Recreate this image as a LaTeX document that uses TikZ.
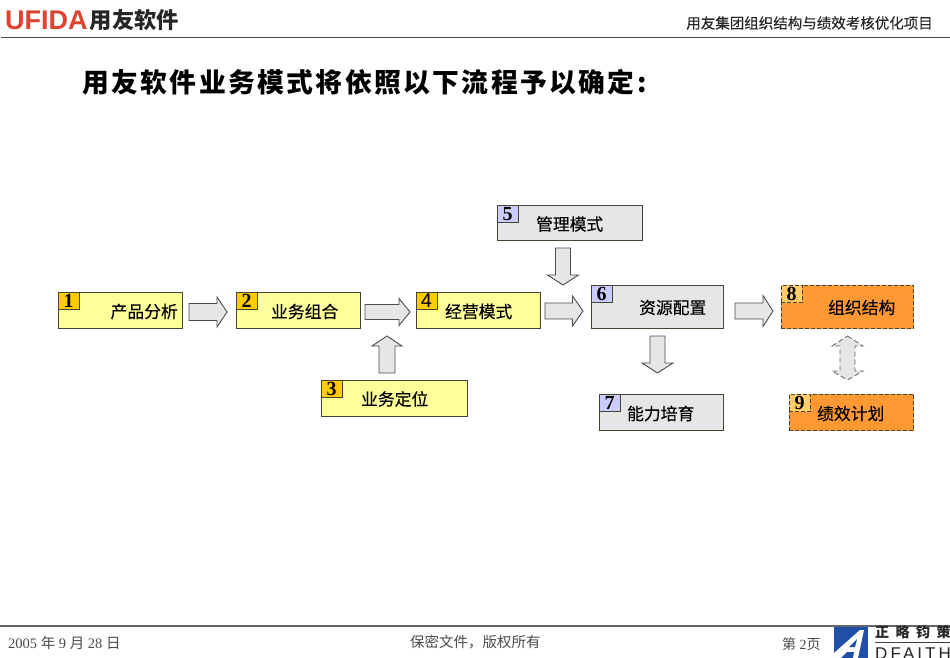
\documentclass[tikz,border=0pt]{standalone}
\usepackage{fontspec}
\setmainfont{Liberation Serif}
\setsansfont{Liberation Sans}
\newfontfamily\cjk{Noto Sans CJK SC}
\newfontfamily\cjklabel[FakeBold=0.25]{Noto Sans CJK SC}
\newfontfamily\cjktitle[LetterSpace=9]{Noto Sans CJK SC}
\newfontfamily\cjkwide[LetterSpace=46]{Noto Sans CJK SC}
\newfontfamily\enwide[LetterSpace=18]{Liberation Sans}
\usetikzlibrary{calc}
\definecolor{ybox}{HTML}{FFFF99}
\definecolor{ybadge}{HTML}{FFCC00}
\definecolor{gbox}{HTML}{E6E6E6}
\definecolor{gbadge}{HTML}{CCCCFF}
\definecolor{obox}{HTML}{FF9933}
\definecolor{obadge}{HTML}{FFCC66}
\definecolor{edge}{HTML}{444433}
\definecolor{logored}{HTML}{DC4430}
\definecolor{logoblue}{HTML}{1F4FA8}
\newcommand\dg[1]{\raisebox{-1.5pt}{#1}}
\tikzset{
  boxbase/.style={draw=edge,line width=1pt,inner sep=0pt,outer sep=0pt},
  yellowbox/.style={boxbase,fill=ybox},
  greybox/.style={boxbase,fill=gbox},
  orangebox/.style={boxbase,fill=obox,dash pattern=on 4pt off 2pt},
  badgebase/.style={draw=edge,line width=0.7pt,inner sep=0pt,outer sep=0pt,anchor=north west,
     minimum width=21pt,minimum height=17.5pt,font=\fontsize{20}{20}\selectfont\bfseries},
  ybadgebox/.style={badgebase,fill=ybadge},
  gbadgebox/.style={badgebase,fill=gbadge},
  obadgebox/.style={badgebase,fill=obadge,dash pattern=on 4pt off 2pt},
  lab/.style={inner sep=0pt,font=\fontsize{16.8}{17}\cjklabel},
  barrow/.style={draw=black!70,fill=gbox,line width=0.9pt,line join=miter},
  darrow/.style={draw=black!60,fill=gbox,line width=0.8pt,dash pattern=on 5pt off 3pt},
  foot/.style={inner sep=0pt,text=black!70},
}
% #1 start, #2 end, #3 half shaft, #4 half head, #5 head length
\newcommand\blockarrow[5]{%
  \coordinate (hb) at ($(#2)!#5!(#1)$);
  \draw[barrow]
    ($(#1)!#3!90:(#2)$) -- ($(hb)!#3!-90:(#1)$) -- ($(hb)!#4!-90:(#1)$) -- (#2)
    -- ($(hb)!#4!90:(#1)$) -- ($(hb)!#3!90:(#1)$) -- ($(#1)!#3!-90:(#2)$) -- cycle;
}
\begin{document}
\begin{tikzpicture}[x=1pt,y=-1pt]
\useasboundingbox (0,0) rectangle (950,658);
\fill[white] (0,0) rectangle (950,658);
% header
\node[anchor=west,inner sep=0pt,text=logored,font=\fontsize{27}{27}\sffamily\bfseries] (ufida) at (5,20.5) {UFIDA};
\node[anchor=west,inner sep=0pt,text=black!85,font=\fontsize{22.3}{23}\cjk\bfseries] (yy) at (89.5,20.5) {用友软件};
\node[anchor=east,inner sep=0pt,font=\fontsize{14.5}{15}\cjklabel,text=black!85] (proj) at (933,23) {用友集团组织结构与绩效考核优化项目};
\draw[black!70,line width=1pt] (1,38) -- (950,38);
\node[anchor=west,inner sep=0pt,font=\fontsize{26.8}{27}\cjktitle\bfseries] (title) at (82,82) {用友软件业务模式将依照以下流程予以确定:};
% boxes
\node[yellowbox,minimum width=124.5pt,minimum height=36.5pt] (n1) at (120.25,310.25) {};
\node[yellowbox,minimum width=124.5pt,minimum height=36.5pt] (n2) at (298.25,310.25) {};
\node[yellowbox,minimum width=146.5pt,minimum height=36.5pt] (n3) at (394.25,398.25) {};
\node[yellowbox,minimum width=124.5pt,minimum height=36.5pt] (n4) at (478.25,310.25) {};
\node[greybox,minimum width=145.5pt,minimum height=35.5pt] (n5) at (569.75,222.75) {};
\node[greybox,minimum width=132.5pt,minimum height=43.5pt] (n6) at (657.25,306.75) {};
\node[greybox,minimum width=124.5pt,minimum height=36.5pt] (n7) at (661.25,412.25) {};
\node[orangebox,minimum width=132.5pt,minimum height=43.5pt] (n8) at (847.25,306.75) {};
\node[orangebox,minimum width=124.5pt,minimum height=36.5pt] (n9) at (851.25,412.25) {};
% badges
\node[ybadgebox] (b1) at (n1.north west) {\dg{1}};
\node[ybadgebox] (b2) at (n2.north west) {\dg{2}};
\node[ybadgebox] (b3) at (n3.north west) {\dg{3}};
\node[ybadgebox,font=\fontsize{20}{20}\sffamily] (b4) at (n4.north west) {\dg{4}};
\node[gbadgebox] (b5) at (n5.north west) {\dg{5}};
\node[gbadgebox] (b6) at (n6.north west) {\dg{6}};
\node[gbadgebox] (b7) at (n7.north west) {\dg{7}};
\node[obadgebox] (b8) at (n8.north west) {\dg{8}};
\node[obadgebox] (b9) at (n9.north west) {\dg{9}};
% labels
\node[lab,anchor=east] (l1) at (178,311.5) {产品分析};
\node[lab,anchor=east] (l2) at (338.5,311.5) {业务组合};
\node[lab,anchor=east] (l3) at (428.5,399) {业务定位};
\node[lab,anchor=east] (l4) at (512.5,311.5) {经营模式};
\node[lab,anchor=east] (l5) at (603.5,224) {管理模式};
\node[lab,anchor=east] (l6) at (706.5,307.5) {资源配置};
\node[lab,anchor=east] (l7) at (694.5,413.5) {能力培育};
\node[lab,anchor=east] (l8) at (895.5,307.5) {组织结构};
\node[lab,anchor=east] (l9) at (884.5,413.5) {绩效计划};
% block arrows
\coordinate (a1s) at (189,312); \coordinate (a1e) at (227,312);
\blockarrow{a1s}{a1e}{8.5pt}{15pt}{10pt}
\coordinate (a2s) at (365,312); \coordinate (a2e) at (410,312);
\blockarrow{a2s}{a2e}{7.5pt}{13.5pt}{11pt}
\coordinate (a3s) at (387,373); \coordinate (a3e) at (387,336);
\blockarrow{a3s}{a3e}{8pt}{15pt}{10pt}
\coordinate (a4s) at (545,311); \coordinate (a4e) at (583,311);
\blockarrow{a4s}{a4e}{8pt}{15pt}{10.5pt}
\coordinate (a5s) at (563,248); \coordinate (a5e) at (563,285);
\blockarrow{a5s}{a5e}{7.5pt}{15.5pt}{10pt}
\coordinate (a6s) at (657.5,336); \coordinate (a6e) at (657.5,373);
\blockarrow{a6s}{a6e}{7.5pt}{15.5pt}{10pt}
\coordinate (a7s) at (735,311); \coordinate (a7e) at (773,311);
\blockarrow{a7s}{a7e}{8pt}{15.5pt}{10pt}
% double arrow 8-9
\coordinate (d1) at (847.5,336); \coordinate (d2) at (847.5,380);
\draw[darrow] (d1) -- (863,346) -- (855,346) -- (855,371) -- (863,371) -- (d2)
  -- (832,371) -- (840,371) -- (840,346) -- (832,346) -- cycle;
% footer
\draw[black!60,line width=2pt] (0,625.5) -- (950,625.5);
\node[foot,anchor=west,font=\fontsize{14.5}{15}\selectfont] (date) at (8,642.5) {2005 {\cjk 年} 9 {\cjk 月} 28 {\cjk 日}};
\node[foot,anchor=west,font=\fontsize{14.5}{15}\cjk] (secret) at (410,642) {保密文件，版权所有};
\node[foot,anchor=west,font=\fontsize{14}{14}\selectfont] (page) at (782,644.5) {{\cjk 第} 2{\cjk 页}};
% footer logo
\fill[logoblue] (834,626.5) rectangle (868,658);
\fill[white] (834,653) -- (860,630) -- (864,630) -- (858,658) -- (834,658) -- cycle;
\fill[logoblue] (849,647) -- (857,639) -- (855,647) -- cycle;
\fill[logoblue] (841,658) -- (847,652) -- (854,652) -- (853,658) -- cycle;
\node[anchor=west,inner sep=0pt,font=\fontsize{14}{14}\cjkwide\bfseries,text=black!85] (cn) at (875,632.5) {正略钧策};
\draw[black!75,line width=0.8pt] (875,642) -- (950,642);
\node[anchor=base west,inner sep=0pt,font=\fontsize{17}{17}\enwide,text=black!85] (en) at (875,659) {DFAITH};
\end{tikzpicture}
\end{document}
